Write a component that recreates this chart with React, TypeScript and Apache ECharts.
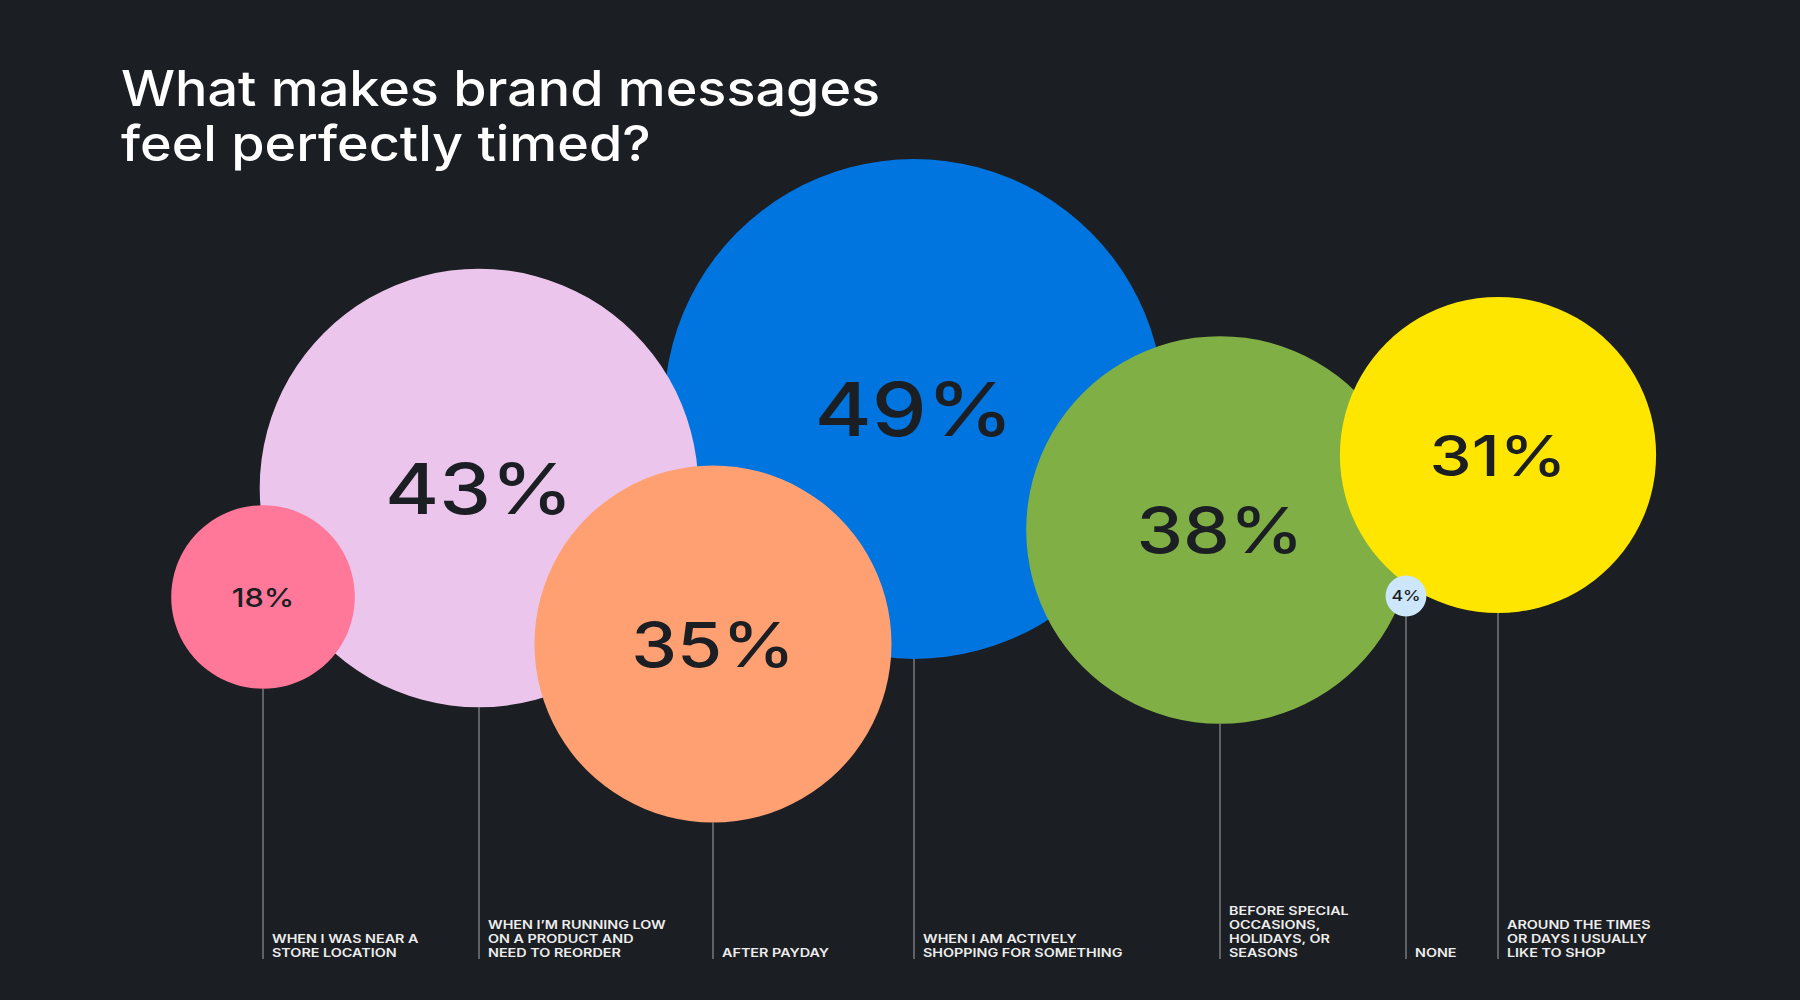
import React, { useEffect, useRef } from "react";
import * as echarts from "echarts";

// ---- Data ----
const categories = [
  "WHEN I WAS NEAR A\nSTORE LOCATION",
  "WHEN I’M RUNNING LOW\nON A PRODUCT AND\nNEED TO REORDER",
  "AFTER PAYDAY",
  "WHEN I AM ACTIVELY\nSHOPPING FOR SOMETHING",
  "BEFORE SPECIAL\nOCCASIONS,\nHOLIDAYS, OR\nSEASONS",
  "NONE",
  "AROUND THE TIMES\nOR DAYS I USUALLY\nLIKE TO SHOP",
];
const values = [18, 43, 35, 49, 38, 4, 31];
// bubble centre positions on the (hidden) x / y axes
const bubbleX = [263, 479, 713, 914, 1220, 1406, 1498];
const bubbleY = [597, 488, 644, 409, 530, 596, 455];
// stacking order of bubbles (back to front)
const drawOrder = [3, 1, 0, 2, 4, 6, 5];

// ---- Styles ----
const colors = ["#FF7799", "#EBC5EC", "#FFA072", "#0074DF", "#80AF45", "#CCE6FB", "#FFE600"];
const labelFontSizes = [26, 70, 62, 74, 63, 15, 57];
const RADIUS_PER_POINT = 5.1;
const STEM_BOTTOM = 959;
const BG = "#1B1E22";

export default function App() {
  const ref = useRef<HTMLDivElement>(null);

  useEffect(() => {
    if (!ref.current) return;
    const chart = echarts.init(ref.current, undefined, { renderer: "svg" });

    const rows = values.map((v, i) => [bubbleX[i], bubbleY[i], v, i]);
    const orderedRows = drawOrder.map((i) => rows[i]);

    const option: any = {
      animation: false,
      backgroundColor: BG,
      grid: { left: 0, right: 0, top: 0, bottom: 0 },
      xAxis: { type: "value", min: 0, max: 1800, show: false },
      yAxis: { type: "value", min: 0, max: 1000, inverse: true, show: false },
      graphic: [
        {
          type: "text",
          x: 121,
          y: 60,
          scaleX: 1.1,
          style: {
            text: "What makes brand messages\nfeel perfectly timed?",
            fontFamily: "Inter",
            fontWeight: 500,
            fontSize: 49,
            lineHeight: 55,
            fill: "#FFFFFF",
            align: "left",
            verticalAlign: "top",
          },
        },
      ],
      series: [
        {
          type: "custom",
          name: "stems",
          z: 1,
          data: rows,
          renderItem: (params: any, api: any) => {
            const i = api.value(3);
            const [cx, cy] = api.coord([api.value(0), api.value(1)]);
            const r = api.size([api.value(2) * RADIUS_PER_POINT, 0])[0];
            const bottom = api.coord([0, STEM_BOTTOM])[1];
            return {
              type: "group",
              children: [
                {
                  type: "line",
                  shape: { x1: cx, y1: cy + r, x2: cx, y2: bottom },
                  style: { stroke: "#8E9094", lineWidth: 1.2 },
                },
                {
                  type: "text",
                  x: cx + 9,
                  y: bottom + 1,
                  scaleX: 1.25,
                  style: {
                    text: categories[i],
                    x: 0,
                    y: 0,
                    fontFamily: "Inter",
                    fontWeight: 600,
                    fontSize: 11.5,
                    lineHeight: 14,
                    fill: "#EDEDED",
                    align: "left",
                    verticalAlign: "bottom",
                  },
                },
              ],
            };
          },
        },
        {
          type: "custom",
          name: "bubbles",
          z: 2,
          data: orderedRows,
          renderItem: (params: any, api: any) => {
            const i = api.value(3);
            const [cx, cy] = api.coord([api.value(0), api.value(1)]);
            const r = api.size([api.value(2) * RADIUS_PER_POINT, 0])[0];
            return {
              type: "group",
              children: [
                {
                  type: "circle",
                  shape: { cx, cy, r },
                  style: { fill: colors[i] },
                },
                {
                  type: "text",
                  x: cx,
                  y: cy,
                  scaleX: 1.18,
                  style: {
                    text: values[i] + "%",
                    x: 0,
                    y: 0,
                    fontFamily: "Inter",
                    fontWeight: 500,
                    fontSize: labelFontSizes[i],
                    fill: "#1B1E22",
                    align: "center",
                    verticalAlign: "middle",
                  },
                },
              ],
            };
          },
        },
      ],
    };

    chart.setOption(option);
    return () => chart.dispose();
  }, []);

  return (
    <div
      ref={ref}
      style={{ position: "fixed", left: 0, top: 0, width: 1800, height: 1000 }}
    />
  );
}
